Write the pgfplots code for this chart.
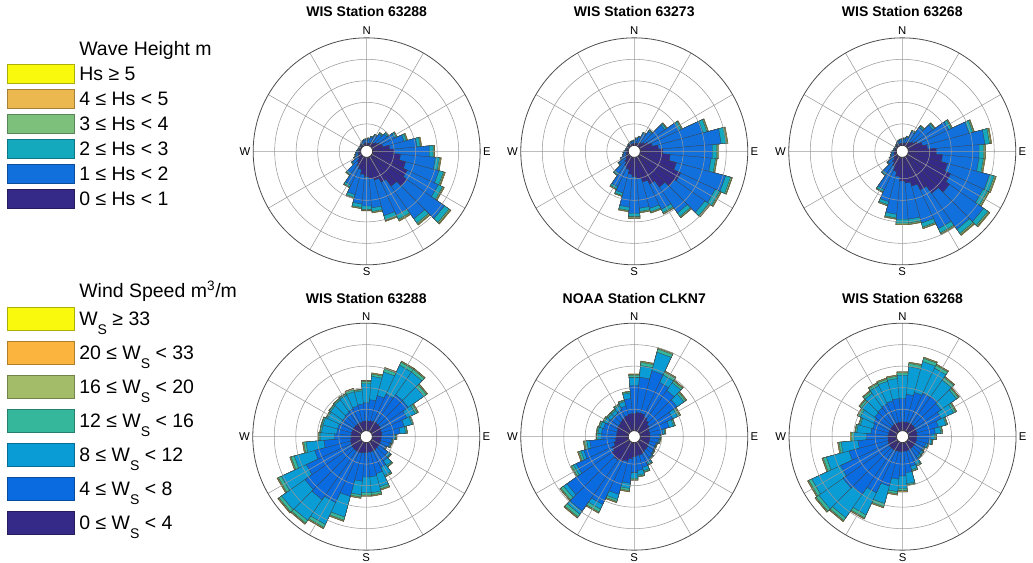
\documentclass[border=0pt]{standalone}
\usepackage{fontspec}
\setmainfont{Liberation Sans}
\usepackage{pgfplots}
\usepackage{pgfplotstable}
\pgfplotsset{compat=1.18}
\usepgfplotslibrary{polar}

% wave-height classes (cumulative radius, grid units)
\pgfplotstableread{
d n b t g o y
0 0.10 0.25 0.29 0.30 0.30 0.30
10 0.10 0.30 0.34 0.35 0.35 0.35
20 0.12 0.40 0.44 0.45 0.45 0.45
30 0.15 0.54 0.58 0.60 0.60 0.60
40 0.20 0.70 0.76 0.78 0.79 0.79
50 0.30 0.88 0.95 0.98 0.99 1.00
60 0.40 1.16 1.25 1.28 1.30 1.30
70 0.50 1.52 1.63 1.67 1.69 1.70
80 0.80 2.07 2.22 2.26 2.28 2.30
90 1.00 2.64 2.82 2.86 2.88 2.90
100 1.30 2.93 3.12 3.17 3.20 3.21
110 1.60 3.20 3.42 3.47 3.50 3.51
120 1.80 3.40 3.62 3.67 3.70 3.71
130 2.00 4.14 4.40 4.46 4.49 4.51
140 1.70 3.55 3.80 3.86 3.89 3.91
150 1.30 3.00 3.21 3.26 3.29 3.31
160 1.10 2.82 3.02 3.06 3.08 3.10
170 1.00 2.36 2.53 2.57 2.59 2.60
180 0.90 2.27 2.43 2.47 2.49 2.50
190 0.80 2.18 2.34 2.38 2.40 2.40
200 0.60 1.81 1.94 1.98 2.00 2.00
210 0.50 1.45 1.55 1.58 1.60 1.60
220 0.35 0.99 1.06 1.09 1.10 1.10
230 0.20 0.54 0.58 0.60 0.60 0.60
240 0.15 0.36 0.39 0.40 0.40 0.40
250 0.12 0.27 0.29 0.30 0.30 0.30
260 0.10 0.22 0.24 0.25 0.25 0.25
270 0.08 0.18 0.20 0.20 0.20 0.20
280 0.07 0.13 0.15 0.15 0.15 0.15
290 0.06 0.10 0.12 0.12 0.12 0.12
300 0.06 0.10 0.12 0.12 0.12 0.12
310 0.06 0.10 0.12 0.12 0.12 0.12
320 0.07 0.13 0.15 0.15 0.15 0.15
330 0.08 0.18 0.20 0.20 0.20 0.20
340 0.09 0.23 0.25 0.25 0.25 0.25
350 0.10 0.26 0.29 0.30 0.30 0.30
}\tabA

\pgfplotstableread{
d n b t g o y
0 0.08 0.21 0.24 0.25 0.25 0.25
10 0.10 0.30 0.34 0.35 0.35 0.35
20 0.12 0.40 0.44 0.45 0.45 0.45
30 0.15 0.63 0.68 0.70 0.70 0.70
40 0.20 0.86 0.92 0.94 0.95 0.95
50 0.30 1.46 1.55 1.58 1.60 1.60
60 0.45 2.02 2.14 2.18 2.20 2.20
70 0.60 3.03 3.22 3.27 3.29 3.30
80 0.85 3.78 4.01 4.06 4.09 4.10
90 1.05 3.36 3.57 3.62 3.64 3.65
100 1.40 3.31 3.52 3.57 3.59 3.60
110 1.75 4.12 4.36 4.42 4.44 4.45
120 2.10 3.88 4.11 4.16 4.19 4.20
130 2.00 3.74 3.96 4.01 4.04 4.05
140 1.75 3.22 3.42 3.47 3.49 3.50
150 1.40 2.70 2.87 2.92 2.94 2.95
160 1.20 2.47 2.63 2.67 2.69 2.70
170 1.00 2.38 2.53 2.57 2.59 2.60
180 0.90 2.61 2.77 2.81 2.84 2.85
190 0.80 2.33 2.48 2.52 2.54 2.55
200 0.60 1.73 1.85 1.88 1.90 1.90
210 0.50 1.54 1.65 1.68 1.70 1.70
220 0.35 0.99 1.07 1.09 1.10 1.10
230 0.20 0.59 0.63 0.65 0.65 0.65
240 0.15 0.41 0.44 0.45 0.45 0.45
250 0.10 0.27 0.29 0.30 0.30 0.30
260 0.10 0.22 0.24 0.25 0.25 0.25
270 0.08 0.18 0.20 0.20 0.20 0.20
280 0.07 0.13 0.15 0.15 0.15 0.15
290 0.06 0.10 0.12 0.12 0.12 0.12
300 0.06 0.10 0.12 0.12 0.12 0.12
310 0.06 0.10 0.12 0.12 0.12 0.12
320 0.07 0.13 0.15 0.15 0.15 0.15
330 0.07 0.16 0.18 0.18 0.18 0.18
340 0.08 0.18 0.20 0.20 0.20 0.20
350 0.08 0.19 0.22 0.22 0.22 0.22
}\tabB

\pgfplotstableread{
d n b t g o y
0 0.10 0.26 0.29 0.30 0.30 0.30
10 0.10 0.30 0.34 0.35 0.35 0.35
20 0.12 0.40 0.44 0.45 0.45 0.45
30 0.18 0.72 0.78 0.80 0.80 0.80
40 0.25 1.09 1.16 1.19 1.20 1.20
50 0.35 1.46 1.55 1.58 1.60 1.60
60 0.50 2.11 2.24 2.28 2.30 2.30
70 0.70 2.94 3.12 3.17 3.19 3.20
80 0.90 3.58 3.80 3.86 3.89 3.90
90 1.30 3.30 3.51 3.56 3.59 3.60
100 1.60 3.30 3.51 3.56 3.59 3.60
110 1.90 3.92 4.15 4.21 4.24 4.25
120 2.20 3.87 4.10 4.16 4.19 4.20
130 2.40 4.34 4.59 4.65 4.68 4.70
140 2.10 4.15 4.39 4.45 4.48 4.50
150 1.70 3.69 3.91 3.96 3.99 4.00
160 1.40 3.17 3.37 3.42 3.44 3.45
170 1.20 2.89 3.07 3.12 3.14 3.15
180 1.10 2.89 3.07 3.12 3.14 3.15
190 0.90 2.66 2.83 2.87 2.89 2.90
200 0.70 2.15 2.29 2.33 2.35 2.35
210 0.50 1.69 1.80 1.83 1.85 1.85
220 0.35 0.99 1.07 1.09 1.10 1.10
230 0.20 0.54 0.58 0.60 0.60 0.60
240 0.15 0.36 0.39 0.40 0.40 0.40
250 0.12 0.27 0.29 0.30 0.30 0.30
260 0.10 0.22 0.24 0.25 0.25 0.25
270 0.08 0.18 0.20 0.20 0.20 0.20
280 0.07 0.13 0.15 0.15 0.15 0.15
290 0.06 0.10 0.12 0.12 0.12 0.12
300 0.06 0.10 0.12 0.12 0.12 0.12
310 0.06 0.10 0.12 0.12 0.12 0.12
320 0.07 0.13 0.15 0.15 0.15 0.15
330 0.08 0.18 0.20 0.20 0.20 0.20
340 0.09 0.23 0.25 0.25 0.25 0.25
350 0.10 0.26 0.29 0.30 0.30 0.30
}\tabC

% wind-speed classes (cumulative radius, grid units)
\pgfplotstableread{
d n b l t v o y
0 0.45 1.30 2.19 2.29 2.33 2.35 2.35
10 0.45 1.45 2.54 2.64 2.68 2.70 2.70
20 0.48 1.70 2.84 2.99 3.03 3.05 3.05
30 0.50 1.90 3.39 3.54 3.58 3.60 3.60
40 0.50 2.10 3.39 3.54 3.58 3.60 3.60
50 0.50 2.10 2.99 3.14 3.18 3.20 3.20
60 0.48 1.80 2.24 2.34 2.38 2.40 2.40
70 0.45 1.55 1.91 1.97 1.99 2.00 2.00
80 0.45 1.30 1.56 1.62 1.64 1.65 1.65
90 0.42 1.00 1.09 1.12 1.14 1.15 1.15
100 0.42 0.90 0.94 0.97 0.99 1.00 1.00
110 0.42 0.85 0.89 0.92 0.94 0.95 0.95
120 0.42 0.72 0.74 0.77 0.79 0.80 0.80
130 0.42 0.95 1.09 1.12 1.14 1.15 1.15
140 0.42 1.10 1.36 1.42 1.44 1.45 1.45
150 0.45 1.30 1.71 1.77 1.79 1.80 1.80
160 0.45 1.50 2.14 2.24 2.28 2.30 2.30
170 0.45 1.60 2.34 2.44 2.48 2.50 2.50
180 0.45 1.60 2.34 2.44 2.48 2.50 2.50
190 0.48 1.80 2.44 2.54 2.58 2.60 2.60
200 0.50 2.60 3.59 3.74 3.78 3.80 3.80
210 0.52 3.10 4.23 4.38 4.42 4.44 4.45
220 0.52 3.30 4.48 4.63 4.67 4.69 4.70
230 0.52 3.20 4.53 4.68 4.72 4.74 4.75
240 0.50 2.80 4.08 4.23 4.27 4.29 4.30
250 0.48 2.20 3.19 3.34 3.38 3.40 3.40
260 0.45 1.70 2.54 2.64 2.68 2.70 2.70
270 0.42 1.20 1.86 1.92 1.94 1.95 1.95
280 0.42 1.10 1.81 1.87 1.89 1.90 1.90
290 0.42 1.10 1.81 1.87 1.89 1.90 1.90
300 0.42 1.05 1.71 1.77 1.79 1.80 1.80
310 0.42 1.05 1.76 1.82 1.84 1.85 1.85
320 0.42 1.10 1.81 1.87 1.89 1.90 1.90
330 0.42 1.15 1.86 1.92 1.94 1.95 1.95
340 0.42 1.20 1.89 1.99 2.03 2.05 2.05
350 0.45 1.25 1.86 1.92 1.94 1.95 1.95
}\tabD

\pgfplotstableread{
d n b l t v o y
0 0.80 2.10 2.49 2.59 2.63 2.65 2.65
10 0.85 2.50 3.04 3.19 3.23 3.25 3.25
20 0.85 2.90 3.79 3.94 3.98 4.00 4.00
30 0.75 2.50 2.89 3.04 3.08 3.10 3.10
40 0.65 2.35 2.79 2.89 2.93 2.95 2.95
50 0.55 2.15 2.54 2.64 2.68 2.70 2.70
60 0.50 1.70 1.94 2.04 2.08 2.10 2.10
70 0.45 1.40 1.61 1.67 1.69 1.70 1.70
80 0.45 1.05 1.14 1.17 1.19 1.20 1.20
90 0.45 0.90 0.94 0.97 0.99 1.00 1.00
100 0.45 0.85 0.89 0.92 0.94 0.95 0.95
110 0.45 0.78 0.79 0.82 0.84 0.85 0.85
120 0.45 0.78 0.79 0.82 0.84 0.85 0.85
130 0.50 0.82 0.84 0.87 0.89 0.90 0.90
140 0.50 0.90 0.94 0.97 0.99 1.00 1.00
150 0.55 1.05 1.14 1.17 1.19 1.20 1.20
160 0.60 1.20 1.36 1.42 1.44 1.45 1.45
170 0.60 1.30 1.51 1.57 1.59 1.60 1.60
180 0.65 1.40 1.66 1.72 1.74 1.75 1.75
190 0.75 1.90 2.14 2.24 2.28 2.30 2.30
200 0.90 2.50 2.74 2.84 2.88 2.90 2.90
210 1.00 3.20 3.44 3.59 3.63 3.65 3.65
220 1.05 3.95 4.13 4.28 4.32 4.34 4.35
230 1.00 3.55 3.74 3.89 3.93 3.95 3.95
240 0.85 2.70 2.84 2.94 2.98 3.00 3.00
250 0.70 2.15 2.29 2.39 2.43 2.45 2.45
260 0.60 1.80 1.94 2.04 2.08 2.10 2.10
270 0.55 1.25 1.41 1.47 1.49 1.50 1.50
280 0.55 1.25 1.41 1.47 1.49 1.50 1.50
290 0.55 1.20 1.36 1.42 1.44 1.45 1.45
300 0.60 1.10 1.26 1.32 1.34 1.35 1.35
310 0.60 1.05 1.21 1.27 1.29 1.30 1.30
320 0.65 1.05 1.21 1.27 1.29 1.30 1.30
330 0.70 1.10 1.31 1.37 1.39 1.40 1.40
340 0.75 1.20 1.41 1.47 1.49 1.50 1.50
350 0.80 1.50 1.76 1.82 1.84 1.85 1.85
}\tabE

\pgfplotstableread{
d n b l t v o y
0 0.40 1.50 2.59 2.69 2.73 2.75 2.75
10 0.40 1.70 2.99 3.14 3.18 3.20 3.20
20 0.42 1.85 3.34 3.49 3.53 3.55 3.55
30 0.42 1.95 3.24 3.39 3.43 3.45 3.45
40 0.42 2.00 2.94 3.09 3.13 3.15 3.15
50 0.42 1.90 2.79 2.89 2.93 2.95 2.95
60 0.40 1.70 2.34 2.44 2.48 2.50 2.50
70 0.40 1.45 1.81 1.87 1.89 1.90 1.90
80 0.40 1.25 1.51 1.57 1.59 1.60 1.60
90 0.38 1.05 1.21 1.27 1.29 1.30 1.30
100 0.38 0.95 1.09 1.12 1.14 1.15 1.15
110 0.38 0.85 0.94 0.97 0.99 1.00 1.00
120 0.38 0.80 0.84 0.87 0.89 0.90 0.90
130 0.38 0.80 0.89 0.92 0.94 0.95 0.95
140 0.38 0.85 0.94 0.97 0.99 1.00 1.00
150 0.38 1.00 1.16 1.22 1.24 1.25 1.25
160 0.40 1.15 1.31 1.37 1.39 1.40 1.40
170 0.40 1.40 1.91 1.97 1.99 2.00 2.00
180 0.40 1.55 2.14 2.24 2.28 2.30 2.30
190 0.42 1.70 2.29 2.39 2.43 2.45 2.45
200 0.42 2.10 2.94 3.09 3.13 3.15 3.15
210 0.45 2.60 3.74 3.89 3.93 3.95 3.95
220 0.45 3.00 4.33 4.48 4.52 4.54 4.55
230 0.45 3.10 4.48 4.63 4.67 4.69 4.70
240 0.45 2.90 4.38 4.53 4.57 4.59 4.60
250 0.42 2.30 3.39 3.54 3.58 3.60 3.60
260 0.40 1.80 2.59 2.69 2.73 2.75 2.75
270 0.40 1.40 1.99 2.09 2.13 2.15 2.15
280 0.38 1.20 1.86 1.92 1.94 1.95 1.95
290 0.38 1.15 1.76 1.82 1.84 1.85 1.85
300 0.38 1.20 1.89 1.99 2.03 2.05 2.05
310 0.38 1.30 2.04 2.14 2.18 2.20 2.20
320 0.40 1.35 2.19 2.29 2.33 2.35 2.35
330 0.40 1.40 2.34 2.44 2.48 2.50 2.50
340 0.40 1.45 2.39 2.49 2.53 2.55 2.55
350 0.40 1.50 2.44 2.54 2.58 2.60 2.60
}\tabF

\definecolor{hA}{HTML}{352A87}
\definecolor{hB}{HTML}{1170DC}
\definecolor{hC}{HTML}{14A9BD}
\definecolor{hD}{HTML}{7DC07B}
\definecolor{hE}{HTML}{EAB84F}
\definecolor{hF}{HTML}{F9F90E}
\definecolor{wA}{HTML}{352A87}
\definecolor{wB}{HTML}{0A6BE0}
\definecolor{wC}{HTML}{0A9CD4}
\definecolor{wD}{HTML}{35B79C}
\definecolor{wE}{HTML}{A3BC6A}
\definecolor{wF}{HTML}{FBB53F}
\definecolor{wG}{HTML}{F9F90E}

\newcommand\holer{0.28}
\tikzset{wedge/.style={draw=black!75, line width=0.25pt}}
\newcommand\sub[1]{\raisebox{-6.5pt}{\fontsize{10.5}{12}\selectfont #1}}

% one continuous outline: for each 10-degree bin, out from the hole edge to the
% class's cumulative radius, across the bin, and back to the hole edge
\newcommand{\wedges}[3]{%
  \gdef\rosecoords{}%
  \pgfplotstablegetrowsof{#1}%
  \pgfmathtruncatemacro\lastrow{\pgfplotsretval-1}%
  \pgfplotsforeachungrouped \rowi in {0,...,\lastrow}{%
    \pgfplotstablegetelem{\rowi}{d}\of{#1}\let\rdir\pgfplotsretval
    \pgfplotstablegetelem{\rowi}{#2}\of{#1}\let\rrad\pgfplotsretval
    \pgfmathsetmacro\ta{mod(455-\rdir,360)}%
    \pgfmathsetmacro\tb{mod(445-\rdir,360)}%
    \pgfmathsetmacro\ro{\holer+\rrad}%
    \xdef\rosecoords{\rosecoords (\ta,\holer) (\ta,\ro) (\tb,\ro) (\tb,\holer)}%
  }%
  \edef\doplot{\noexpand\addplot[wedge,fill=#3] coordinates {\rosecoords} --cycle;}%
  \doplot
}

\pgfplotsset{
  rosebase/.style={
    scale only axis, width=170.25pt, height=170.25pt,
    anchor=center,
    xmin=0, xmax=360, ymin=0, ymax=5.28,
  },
  rose/.style={
    rosebase,
    xtick={0,30,...,330},
    xticklabels={E,,,N,,,W,,,S,,},
    ytick={1.28,2.28,3.28,4.28},
    yticklabels={},
    major tick length=0pt,
    xmajorgrids, ymajorgrids,
    grid style={draw=black!40, line width=0.4pt},
    axis line style={draw=black!70, line width=0.6pt},
    y axis line style={draw=none},
    xticklabel style={font=\fontsize{8.5}{10}\selectfont, inner sep=2pt},
    axis on top,
  },
  holeax/.style={rosebase, hide axis},
  legbox/.style={
    hide axis, scale only axis, width=10pt, height=10pt,
    xmin=0, xmax=1, ymin=0, ymax=1, anchor=north west,
    legend style={at={(0,1)}, anchor=north west, draw=none, fill=none,
      inner sep=0pt, outer sep=0pt, row sep=0pt, column sep=0pt,
      font=\fontsize{14.6}{17}\selectfont,
      nodes={inner sep=0pt, text height=12pt, text depth=2pt}},
    legend cell align=left,
  },
}

\newcommand\waverose[1]{%
  \wedges{#1}{y}{hF}\wedges{#1}{o}{hE}\wedges{#1}{g}{hD}%
  \wedges{#1}{t}{hC}\wedges{#1}{b}{hB}\wedges{#1}{n}{hA}}
\newcommand\windrose[1]{%
  \wedges{#1}{y}{wG}\wedges{#1}{o}{wF}\wedges{#1}{v}{wE}\wedges{#1}{t}{wD}%
  \wedges{#1}{l}{wC}\wedges{#1}{b}{wB}\wedges{#1}{n}{wA}}
% the white centre of each rose, in an overlaid axis with the same scaling
\newcommand\holeaxis[1]{%
  \begin{polaraxis}[holeax, at={#1}]
  \addplot[only marks, mark=*, mark size=4.5pt,
    mark options={fill=white, draw=black!80, line width=0.5pt}] coordinates {(0,0)};
  \end{polaraxis}}

\begin{document}
\begin{tikzpicture}
\path[use as bounding box] (0,0) rectangle (774.75pt,421.5pt);

\begin{polaraxis}[rose, at={(275.0pt,308.0pt)}]
\waverose{\tabA}
\end{polaraxis}
\holeaxis{(275.0pt,308.0pt)}

\begin{polaraxis}[rose, at={(475.7pt,308.0pt)}]
\waverose{\tabB}
\end{polaraxis}
\holeaxis{(475.7pt,308.0pt)}

\begin{polaraxis}[rose, at={(676.7pt,308.0pt)}]
\waverose{\tabC}
\end{polaraxis}
\holeaxis{(676.7pt,308.0pt)}

\begin{polaraxis}[rose, at={(274.7pt,94.0pt)}]
\windrose{\tabD}
\end{polaraxis}
\holeaxis{(274.7pt,94.0pt)}

\begin{polaraxis}[rose, at={(475.7pt,94.0pt)}]
\windrose{\tabE}
\end{polaraxis}
\holeaxis{(475.7pt,94.0pt)}

\begin{polaraxis}[rose, at={(676.9pt,94.0pt)}]
\windrose{\tabF}
\end{polaraxis}
\holeaxis{(676.9pt,94.0pt)}

% legends
\begin{axis}[legbox, at={(5.5pt,394.1pt)},
  legend image code/.code={\draw[#1, line width=0.5pt] (0pt,-7.125pt) rectangle (50pt,7.125pt);
    \path[draw=none, fill=none] (0pt,-9.375pt) rectangle (53.75pt,9.375pt);}]
\addlegendimage{legend image code/.code={\path[draw=none, fill=none] (0pt,-9.375pt) rectangle (53.75pt,9.375pt);}}
\addlegendentry{Wave Height m}
\addlegendimage{fill=hF, draw=hF!70!black}\addlegendentry{Hs ≥ 5}
\addlegendimage{fill=hE, draw=hE!70!black}\addlegendentry{4 ≤ Hs < 5}
\addlegendimage{fill=hD, draw=hD!70!black}\addlegendentry{3 ≤ Hs < 4}
\addlegendimage{fill=hC, draw=hC!70!black}\addlegendentry{2 ≤ Hs < 3}
\addlegendimage{fill=hB, draw=hB!70!black}\addlegendentry{1 ≤ Hs < 2}
\addlegendimage{fill=hA, draw=hA!70!black}\addlegendentry{0 ≤ Hs < 1}
\end{axis}

\begin{axis}[legbox, at={(5.5pt,211.95pt)},
  legend image code/.code={\draw[#1, line width=0.5pt] (0pt,-8.9pt) rectangle (50pt,8.9pt);
    \path[draw=none, fill=none] (0pt,-12.75pt) rectangle (53.75pt,12.75pt);}]
\addlegendimage{legend image code/.code={\path[draw=none, fill=none] (0pt,-8.45pt) rectangle (53.75pt,8.45pt);}}
\addlegendentry{Wind Speed m\textsuperscript{3}/m}
\addlegendimage{fill=wG, draw=wG!70!black}\addlegendentry{W\sub{S} ≥ 33}
\addlegendimage{fill=wF, draw=wF!70!black}\addlegendentry{20 ≤ W\sub{S} < 33}
\addlegendimage{fill=wE, draw=wE!70!black}\addlegendentry{16 ≤ W\sub{S} < 20}
\addlegendimage{fill=wD, draw=wD!70!black}\addlegendentry{12 ≤ W\sub{S} < 16}
\addlegendimage{fill=wC, draw=wC!70!black}\addlegendentry{8 ≤ W\sub{S} < 12}
\addlegendimage{fill=wB, draw=wB!70!black}\addlegendentry{4 ≤ W\sub{S} < 8}
\addlegendimage{fill=wA, draw=wA!70!black}\addlegendentry{0 ≤ W\sub{S} < 4}
\end{axis}

\begin{scope}[every node/.style={font=\bfseries\fontsize{10.5}{12}\selectfont}]
\node at (275.0pt,412.5pt) {WIS Station 63288};
\node at (475.7pt,412.5pt) {WIS Station 63273};
\node at (676.7pt,412.5pt) {WIS Station 63268};
\node at (274.7pt,197.8pt) {WIS Station 63288};
\node at (475.7pt,197.8pt) {NOAA Station CLKN7};
\node at (676.9pt,197.8pt) {WIS Station 63268};
\end{scope}
\end{tikzpicture}
\end{document}
